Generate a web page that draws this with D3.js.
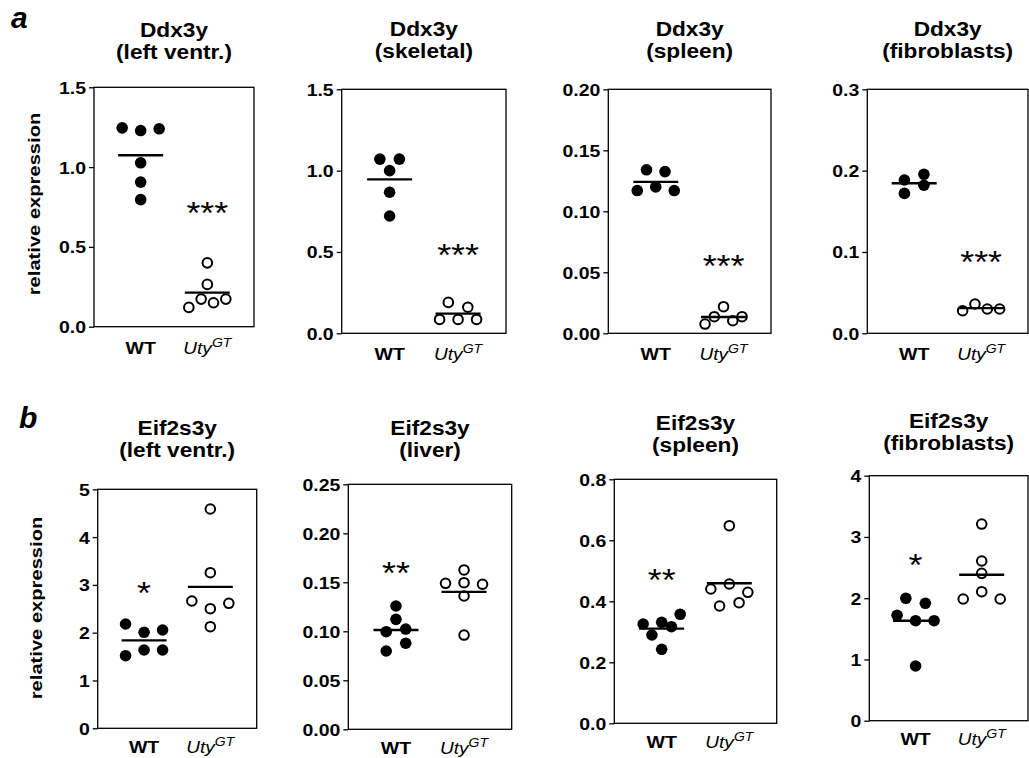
<!DOCTYPE html>
<html>
<head>
<meta charset="utf-8">
<script src="https://cdn.jsdelivr.net/npm/d3@7"></script>
<style>
  body { margin: 0; background: #fff; }
  svg text { font-family: 'Liberation Sans', Arial, Helvetica, sans-serif; fill: #000; }
</style>
</head>
<body>
<div id="root"></div>
<script>
// groups and titles
const groups = ['WT', 'Uty'];
const genes = ['Ddx3y', 'Eif2s3y'];
const panelLetters = ['a', 'b'];
const tissuesA = ['(left ventr.)', '(skeletal)', '(spleen)', '(fibroblasts)'];
const tissuesB = ['(left ventr.)', '(liver)', '(spleen)', '(fibroblasts)'];

// y axes
const yMaxA = [1.5, 1.5, 0.2, 0.3];
const yMaxB = [5, 0.25, 0.8, 4];
const ticksA = [[0, 0.5, 1, 1.5], [0, 0.5, 1, 1.5], [0, 0.05, 0.1, 0.15, 0.2], [0, 0.1, 0.2, 0.3]];
const ticksB = [[0, 1, 2, 3, 4, 5], [0, 0.05, 0.1, 0.15, 0.2, 0.25], [0, 0.2, 0.4, 0.6, 0.8], [0, 1, 2, 3, 4]];
const tickFormatsA = ['.1f', '.1f', '.2f', '.1f'];
const tickFormatsB = ['d', '.2f', '.1f', 'd'];

// relative expression, one inner array per row of dots (left to right)
const ddx3yVentrWT = [[1.246, 1.229, 1.24], [1.027], [0.906], [0.796]];
const ddx3yVentrUty = [[0.4], [0.265], [0.121, 0.173, 0.15, 0.173]];
const ddx3ySkelWT = [[1.071, 1.071], [1.0], [0.867], [0.721]];
const ddx3ySkelUty = [[0.19, 0.16], [0.085, 0.085, 0.085]];
const ddx3ySpleenWT = [[0.117, 0.134, 0.12, 0.1325, 0.117]];
const ddx3ySpleenUty = [[0.0076, 0.0136, 0.0218, 0.0103, 0.0136]];
const ddx3yFibroWT = [[0.1885, 0.1955], [0.172, 0.182]];
const ddx3yFibroUty = [[0.0278, 0.036, 0.0299, 0.0299]];

const eif2VentrWT = [[2.182, 2.008, 2.056], [1.519, 1.638, 1.638]];
const eif2VentrUty = [[4.588], [3.255], [2.663, 2.502, 2.615], [2.126]];
const eif2LiverWT = [[0.1258], [0.1122], [0.0996, 0.1023], [0.0799, 0.0878]];
const eif2LiverUty = [[0.1626], [0.149, 0.1496, 0.148], [0.136], [0.0962]];
const eif2SpleenWT = [[0.3256, 0.3311, 0.3574], [0.2895, 0.3167], [0.2426]];
const eif2SpleenUty = [[0.6479], [0.4403, 0.4567, 0.4295], [0.3846, 0.3954]];
const eif2FibroWT = [[1.998, 1.917], [1.721, 1.633, 1.633], [0.893]];
const eif2FibroUty = [[3.211], [2.607], [2.406], [1.987, 2.106, 1.987]];

// significance marks
const starsA = ['***', '***', '***', '***'];
const starValuesA = [0.734, 0.5, 0.0574, 0.0914];
const starsB = ['*', '**', '**', '*'];
const starValuesB = [2.89, 0.1626, 0.48, 2.596];

const dataA = [
  [ddx3yVentrWT, ddx3yVentrUty],
  [ddx3ySkelWT, ddx3ySkelUty],
  [ddx3ySpleenWT, ddx3ySpleenUty],
  [ddx3yFibroWT, ddx3yFibroUty],
];
const dataB = [
  [eif2VentrWT, eif2VentrUty],
  [eif2LiverWT, eif2LiverUty],
  [eif2SpleenWT, eif2SpleenUty],
  [eif2FibroWT, eif2FibroUty],
];

// layout of the plot boxes [left, top, right, bottom] and title baselines
const boxesA = [[94, 87.3, 254, 326.7], [341.7, 89.3, 506, 333.3], [608.3, 89.3, 771, 333.3], [867.3, 89.3, 1028, 333.3]];
const boxesB = [[97.7, 489.3, 256.7, 728.3], [348.3, 484.3, 511.7, 729.3], [614.3, 479.3, 776.7, 723.3], [869.3, 475.7, 1028, 720.7]];
const titleYA = [37, 36, 36, 36];
const titleYB = [435, 435, 430, 428];
const xLabelOffset = [27, 24.5];
const yLabelPos = [[40, 204], [42, 608]];
const letterPos = [[11, 28], [19, 428]];

const width = 1029;
const height = 758;

const svg = d3
  .select('#root')
  .append('svg')
  .attr('width', width)
  .attr('height', height)
  .attr('viewBox', [0, 0, width, height]);

function addText(parent, x, y, str, opts = {}) {
  const sx = opts.sx || 1;
  const rot = opts.rotate ? ` rotate(${opts.rotate})` : '';
  return parent
    .append('text')
    .attr('transform', `translate(${x},${y})${rot} scale(${sx},1)`)
    .attr('text-anchor', opts.anchor || 'middle')
    .attr('font-size', opts.size || 14)
    .attr('font-weight', opts.weight || 'bold')
    .attr('font-style', opts.style || 'normal')
    .text(str);
}

function drawPanel(p) {
  const [left, top, right, bottom] = p.box;
  const xScale = d3.scalePoint().domain(groups).range([left, right]).padding(0.7);
  const yScale = d3.scaleLinear().domain([0, p.yMax]).range([bottom, top]);
  const g = svg.append('g');

  // title
  addText(g, (left + right) / 2, p.titleY, p.gene, { size: 21, sx: 1.08 });
  addText(g, (left + right) / 2, p.titleY + 22, p.tissue, { size: 21, sx: 1.08 });

  // frame
  g.append('rect')
    .attr('x', left)
    .attr('y', top)
    .attr('width', right - left)
    .attr('height', bottom - top)
    .attr('fill', 'none')
    .attr('stroke', '#000')
    .attr('stroke-width', 1.3);

  const yAxis = g
    .append('g')
    .attr('transform', `translate(${left},0)`)
    .call(
      d3.axisLeft(yScale)
        .tickValues(p.ticks)
        .tickFormat(d3.format(p.fmt))
        .tickSize(5)
    );
  yAxis.select('.domain').remove();
  yAxis.selectAll('line').attr('stroke', '#000').attr('stroke-width', 1.3);
  yAxis
    .selectAll('text')
    .attr('x', 0)
    .attr('dy', '0.36em')
    .attr('transform', 'translate(-8,0) scale(1.18,1)')
    .attr('font-size', 16.5)
    .attr('font-weight', 'bold');

  // x labels
  const ly = bottom + p.xLabelOffset;
  addText(g, xScale('WT'), ly, 'WT', { size: 17, sx: 1.15 });
  const uty = addText(g, xScale('Uty'), ly, 'Uty', { size: 17, weight: 'normal', style: 'italic', sx: 1.12 });
  uty.append('tspan').attr('dy', -7).attr('font-size', 12.5).text('GT');

  // dots, arranged row by row
  const points = [];
  p.values.forEach((rows, gi) => {
    rows.forEach(row => {
      const n = row.length;
      const step = n > 1 ? Math.min(19.5, 37 / (n - 1)) : 0;
      row.forEach((v, i) => {
        points.push({
          group: groups[gi],
          value: v,
          cx: xScale(groups[gi]) + (i - (n - 1) / 2) * step,
        });
      });
    });
  });

  g.append('g')
    .selectAll('circle')
    .data(points)
    .join('circle')
    .attr('cx', d => d.cx)
    .attr('cy', d => yScale(d.value))
    .attr('r', d => (d.group === 'WT' ? 5.8 : 4.8))
    .attr('fill', d => (d.group === 'WT' ? '#000' : '#fff'))
    .attr('stroke', d => (d.group === 'WT' ? 'none' : '#000'))
    .attr('stroke-width', 2);

  // mean lines
  const means = p.values.map((rows, gi) => ({ group: groups[gi], mean: d3.mean(rows.flat()) }));
  g.append('g')
    .selectAll('line')
    .data(means)
    .join('line')
    .attr('x1', d => xScale(d.group) - 22.5)
    .attr('x2', d => xScale(d.group) + 22.5)
    .attr('y1', d => yScale(d.mean))
    .attr('y2', d => yScale(d.mean))
    .attr('stroke', '#000')
    .attr('stroke-width', 2.4);

  // significance
  addText(g, xScale(p.starGroup), yScale(p.starValue) + 14, p.stars, { size: 32, weight: 'normal', sx: 1.12 });
}

[0, 1].forEach(r => {
  const tissues = r === 0 ? tissuesA : tissuesB;
  tissues.forEach((tissue, i) => {
    drawPanel({
      gene: genes[r],
      tissue,
      box: r === 0 ? boxesA[i] : boxesB[i],
      titleY: r === 0 ? titleYA[i] : titleYB[i],
      xLabelOffset: xLabelOffset[r],
      yMax: r === 0 ? yMaxA[i] : yMaxB[i],
      ticks: r === 0 ? ticksA[i] : ticksB[i],
      fmt: r === 0 ? tickFormatsA[i] : tickFormatsB[i],
      values: r === 0 ? dataA[i] : dataB[i],
      stars: r === 0 ? starsA[i] : starsB[i],
      starValue: r === 0 ? starValuesA[i] : starValuesB[i],
      starGroup: r === 0 ? 'Uty' : 'WT',
    });
  });

  addText(svg, yLabelPos[r][0], yLabelPos[r][1], 'relative expression', { size: 16, rotate: -90, sx: 1.26 });
  addText(svg, letterPos[r][0], letterPos[r][1], panelLetters[r], { size: 30, style: 'italic', anchor: 'start' });
});
</script>
</body>
</html>
